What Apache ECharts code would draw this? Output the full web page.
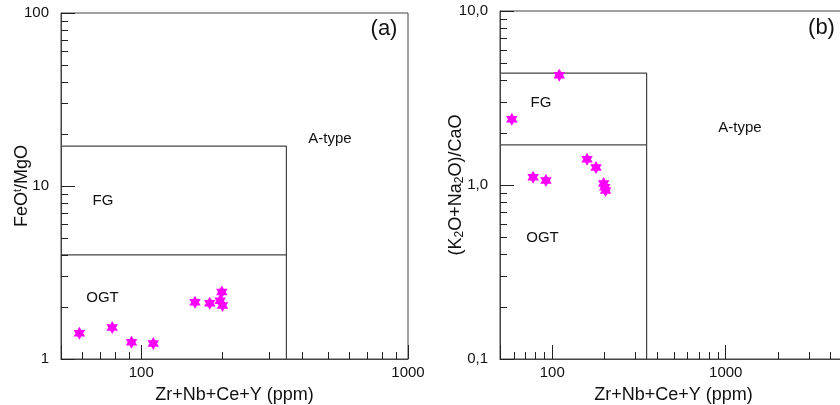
<!DOCTYPE html>
<html><head><meta charset="utf-8">
<script src="https://cdn.jsdelivr.net/npm/echarts@6/dist/echarts.min.js"></script>
<style>html,body{margin:0;padding:0;background:#fff}#c{width:840px;height:405px}</style>
</head><body><div id="c"></div>
<script>
// ---- data ----
const zrA = [58.6, 77.8, 91.9, 110.9, 159, 180.6, 197.5, 200.4, 201.6];
const feoMgo = [1.41, 1.52, 1.25, 1.23, 2.13, 2.10, 2.17, 2.44, 2.04];
const zrB = [58.5, 77.6, 92, 109.8, 158.7, 178.9, 198, 201, 203];
const alkCao = [2.39, 1.107, 1.06, 4.27, 1.405, 1.26, 1.02, 0.97, 0.93];

// field boundaries
const boxA_upper = [[50, 17], [350, 17], [350, 1]];
const boxA_lower = [[50, 4], [350, 4]];
const boxB_upper = [[50, 4.4], [350, 4.4], [350, 0.1]];
const boxB_lower = [[50, 1.7], [350, 1.7]];

// minor ticks
const xMinorA = [60, 70, 80, 90, 200, 300, 400, 500, 600, 700, 800, 900];
const xMinorB = [60, 70, 80, 90, 200, 300, 400, 500, 600, 700, 800, 900, 2000, 3000, 4000];
const yMinorA = [2, 3, 4, 5, 6, 7, 8, 9, 20, 30, 40, 50, 60, 70, 80, 90];
const yMinorB = [0.2, 0.3, 0.4, 0.5, 0.6, 0.7, 0.8, 0.9, 2, 3, 4, 5, 6, 7, 8, 9];

const FONT = '"Liberation Sans", Arial, sans-serif';
const TXT = '#111';
const isPow10 = v => Math.abs(Math.log10(v) - Math.round(Math.log10(v))) < 1e-6;
const STAR = 'path://M0,-10 L2.887,-5 L8.66,-5 L5.774,0 L8.66,5 L2.887,5 L0,10 L-2.887,5 L-8.66,5 L-5.774,0 L-8.66,-5 L-2.887,-5 Z';

function xAxisCfg(gi, min, max) {
  return {
    type: 'log', logBase: 10, gridIndex: gi, min: min, max: max,
    name: 'Zr+Nb+Ce+Y (ppm)', nameLocation: 'middle', nameGap: 27, nameMoveOverlap: false,
    nameTextStyle: { fontSize: 18, fontFamily: FONT, color: TXT },
    axisLine: { show: true, lineStyle: { color: '#444', width: 1 } },
    axisTick: { show: true, inside: true, length: 14, lineStyle: { color: '#222' } },
    axisLabel: { fontSize: 15, fontFamily: FONT, color: TXT, margin: 6,
      formatter: v => isPow10(v) ? String(Math.round(v)) : '' },
    splitLine: { show: false }
  };
}
function yAxisCfg(gi, min, max, name, rich, gap, fmt) {
  return {
    type: 'log', logBase: 10, gridIndex: gi, min: min, max: max,
    name: name, nameLocation: 'middle', nameGap: gap, nameRotate: 90, nameMoveOverlap: false,
    nameTextStyle: { fontSize: 18, fontFamily: FONT, color: TXT, rich: rich },
    axisLine: { show: true, lineStyle: { color: '#444', width: 1 } },
    axisTick: { show: true, inside: true, length: 14, lineStyle: { color: '#222' } },
    axisLabel: { fontSize: 15, fontFamily: FONT, color: TXT, margin: 12,
      formatter: v => isPow10(v) ? fmt(v) : '' },
    splitLine: { show: false }
  };
}
function tickSeries(gi, values, dir, xMin, yMin) {
  return {
    type: 'custom', xAxisIndex: gi, yAxisIndex: gi, silent: true, clip: false, z: 3,
    data: values.map(v => dir === 'x' ? [v, yMin] : [xMin, v]),
    renderItem: function (params, api) {
      const p = api.coord([api.value(0), api.value(1)]);
      let shape;
      if (dir === 'x') {
        const x = Math.round(p[0]) + 0.5;
        shape = { x1: x, y1: p[1], x2: x, y2: p[1] - 7 };
      } else {
        const y = Math.round(p[1]) + 0.5;
        shape = { x1: p[0], y1: y, x2: p[0] + 7, y2: y };
      }
      return { type: 'line', shape: shape, style: { stroke: '#222', lineWidth: 1 } };
    }
  };
}
function boxSeries(gi, pts) {
  return { type: 'line', xAxisIndex: gi, yAxisIndex: gi, data: pts, symbol: 'none', silent: true,
    lineStyle: { color: '#444', width: 1.2 }, z: 2, animation: false };
}
function starSeries(gi, xs, ys) {
  return { type: 'scatter', xAxisIndex: gi, yAxisIndex: gi, data: xs.map((x, i) => [x, ys[i]]),
    symbol: STAR, symbolSize: [11.5, 13], itemStyle: { color: '#ff00ff', opacity: 1 }, z: 5 };
}
function label(text, x, y, size) {
  return { type: 'text', x: x, y: y, silent: true,
    style: { text: text, fill: TXT, font: size + 'px ' + FONT,
      textAlign: 'center', textVerticalAlign: 'middle', align: 'center', verticalAlign: 'middle' } };
}

const richA = {
  n: { fontSize: 18, fontFamily: FONT, color: TXT, lineHeight: 20 },
  s: { fontSize: 11, fontFamily: FONT, color: TXT, lineHeight: 10, verticalAlign: 'top' }
};
const richB = {
  n: { fontSize: 18, fontFamily: FONT, color: TXT, lineHeight: 20 },
  d: { fontSize: 12, fontFamily: FONT, color: TXT, lineHeight: 12, verticalAlign: 'bottom' }
};

const chart = echarts.init(document.getElementById('c'), null, { renderer: 'canvas' });
chart.setOption({
  animation: false,
  backgroundColor: '#fff',
  grid: [
    { left: 61, top: 13, width: 347, height: 346, show: true, borderColor: '#444', borderWidth: 1,
      containLabel: false, outerBoundsMode: 'none' },
    { left: 500, top: 11, width: 347, height: 348, show: true, borderColor: '#444', borderWidth: 1,
      containLabel: false, outerBoundsMode: 'none' }
  ],
  xAxis: [xAxisCfg(0, 50, 1000), xAxisCfg(1, 50, 5000)],
  yAxis: [
    yAxisCfg(0, 1, 100, '{n|FeO}{s|t}{n|/MgO}', richA, 29, v => String(Math.round(v))),
    yAxisCfg(1, 0.1, 10, '{n|(K}{d|2}{n|O+Na}{d|2}{n|O)/CaO}', richB, 34, v => v.toFixed(1).replace('.', ','))
  ],
  series: [
    boxSeries(0, boxA_upper), boxSeries(0, boxA_lower),
    boxSeries(1, boxB_upper), boxSeries(1, boxB_lower),
    tickSeries(0, xMinorA, 'x', 50, 1), tickSeries(0, yMinorA, 'y', 50, 1),
    tickSeries(1, xMinorB, 'x', 50, 0.1), tickSeries(1, yMinorB, 'y', 50, 0.1),
    starSeries(0, zrA, feoMgo), starSeries(1, zrB, alkCao)
  ],
  graphic: [
    label('(a)', 384, 29, 22), label('A-type', 330, 139, 15), label('FG', 103, 201, 15), label('OGT', 102.5, 298, 15),
    label('(b)', 821.5, 28, 22), label('A-type', 740, 128, 15), label('FG', 541, 103, 15), label('OGT', 542.5, 237.5, 15)
  ]
});
</script>
</body></html>
